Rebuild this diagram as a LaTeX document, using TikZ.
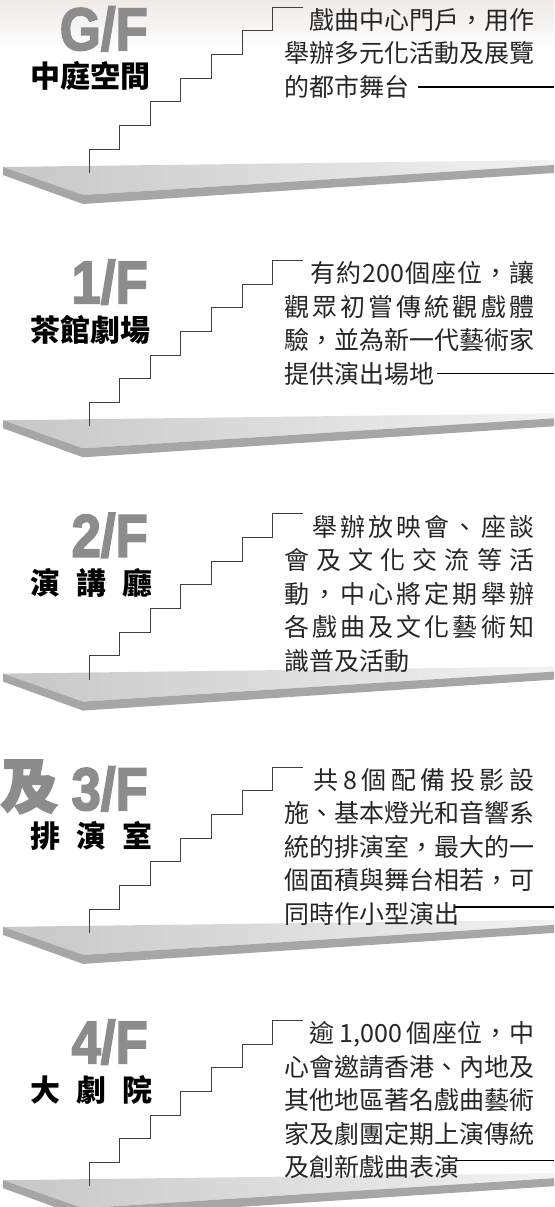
\documentclass[tikz,border=0pt]{standalone}
\usepackage{fontspec}
\usepackage{tikz}
\usetikzlibrary{positioning, calc}
\setmainfont{Liberation Sans}
\newfontfamily\cjk{Noto Sans CJK TC}
\newfontfamily\flrfont{Liberation Sans}[BoldFeatures={FakeBold=3}]
\newfontfamily\cjkheavy{Noto Sans CJK TC}[BoldFeatures={FakeBold=3}]
\definecolor{haze}{RGB}{238,234,232}

\makeatletter
\newcommand\spreadline[2][250pt]{\hbox to #1{\@tempswafalse\@tfor\spch:=#2\do{\if@tempswa\hfil\fi\@tempswatrue\spch}}}
\makeatother

\begin{document}
\begin{tikzpicture}[x=1pt,y=-1pt,
  stair/.style={draw=black!75, line width=0.9pt},
  leader/.style={draw=black, line width=1.3pt},
  slabedge/.style={fill=black!35},
  flr/.style={inner sep=0, text=black!45, font=\flrfont\bfseries\fontsize{60}{60}\selectfont},
  room/.style={inner sep=0, font=\cjk\bfseries\fontsize{30}{30}\selectfont},
  desc/.style={inner sep=0, text=black!85, font=\cjk\fontsize{25}{33.5}\selectfont}]
\useasboundingbox (0,0) rectangle (554,1207);
\clip (0,0) rectangle (554,1207);
\shade[top color=haze, bottom color=white] (0,0) rectangle (554,50);
\coordinate (edge) at (554,0);
% floors: slab and stairs
\foreach \i in {0,...,4} {
  \pgfmathsetmacro\b{173+253.3*\i}
  \shade[left color=black!22, right color=black!5] (3,\b-6) -- (554,\b-13) -- (554,\b-8) -- (83,\b+22) -- cycle;
  \fill[slabedge] (3,\b-6) -- (83,\b+22) -- (554,\b-8) -- (554,\b) -- (83,\b+31) -- (3,\b+2) -- cycle;
  \draw[stair] (89,\b) coordinate (s\i) \foreach \k in {1,...,7} { -- ++(0,-23.7) -- ++(30.6,0) };
}
% G/F
\node[flr, anchor=base east] (fGF) at (148,50) {\scalebox{0.88}[1]{G/F}};
\node[room, anchor=base west] (rGF) at (30,88) {中庭空間};
\node[desc, anchor=base west] (tGF) at (284,29.5) {\vtop{\spreadline{　戲曲中心門戶，用作}\spreadline{舉辦多元化活動及展覽}}};
\node[desc, anchor=base west] (lGF) at (284,96.5) {的都市舞台};
\coordinate (aGF) at ([xshift=9pt]lGF.east);
\draw[leader] (aGF) -- (aGF -| edge);
% 1/F
\node[flr, anchor=base east] (f1F) at (148,303.3) {\scalebox{0.88}[1]{1/F}};
\node[room, anchor=base west] (r1F) at (30,341.3) {茶館劇場};
\node[desc, anchor=base west] (t1F) at (284,282.8) {\vtop{\spreadline{　有約{200}個座位，讓}\spreadline{觀眾初嘗傳統觀戲體}\spreadline{驗，並為新一代藝術家}}};
\node[desc, anchor=base west] (l1F) at (284,383.3) {提供演出場地};
\coordinate (a1F) at ([xshift=3pt]l1F.east);
\draw[leader] (a1F) -- (a1F -| edge);
% 2/F
\node[flr, anchor=base east] (f2F) at (148,556.6) {\scalebox{0.88}[1]{2/F}};
\node[room, anchor=base west] (r2F) at (30,594.6) {\spreadline[122pt]{演講廳}};
\node[desc, anchor=base west] (t2F) at (284,536.1) {\vtop{\spreadline{　舉辦放映會、座談}\spreadline{會及文化交流等活}\spreadline{動，中心將定期舉辦}\spreadline{各戲曲及文化藝術知}}};
\node[desc, anchor=base west] (l2F) at (284,670.1) {識普及活動};
% 3/F
\node[inner sep=0, anchor=south west, text=black!45, font=\cjkheavy\bfseries\fontsize{58}{58}\selectfont] (j3F) at (0,814) {及};
\node[flr, anchor=base east] (f3F) at (148,809.9) {\scalebox{0.88}[1]{3/F}};
\node[room, anchor=base west] (r3F) at (30,847.9) {\spreadline[122pt]{排演室}};
\node[desc, anchor=base west] (t3F) at (284,789.4) {\vtop{\spreadline{　共8個配備投影設}\spreadline{施、基本燈光和音響系}\spreadline{統的排演室，最大的一}\spreadline{個面積與舞台相若，可}}};
\node[desc, anchor=base west] (l3F) at (284,923.4) {同時作小型演出};
\coordinate (a3F) at ([xshift=-4pt, yshift=-5pt]l3F.north east);
\draw[leader] (a3F) -- (a3F -| edge);
% 4/F
\node[flr, anchor=base east] (f4F) at (148,1063.2) {\scalebox{0.88}[1]{4/F}};
\node[room, anchor=base west] (r4F) at (30,1101.2) {\spreadline[122pt]{大劇院}};
\node[desc, anchor=base west] (t4F) at (284,1042.7) {\vtop{\spreadline{　逾{\,1,000\,}個座位，中}\spreadline{心會邀請香港、內地及}\spreadline{其他地區著名戲曲藝術}\spreadline{家及劇團定期上演傳統}}};
\node[desc, anchor=base west] (l4F) at (284,1176.7) {及創新戲曲表演};
\coordinate (a4F) at ([xshift=-4pt, yshift=-5pt]l4F.north east);
\draw[leader] (a4F) -- (a4F -| edge);
\end{tikzpicture}
\end{document}
